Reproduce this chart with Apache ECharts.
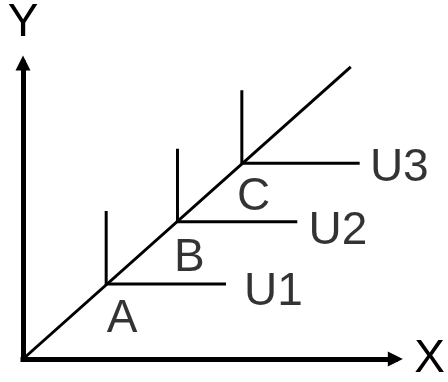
<!DOCTYPE html>
<html>
<head>
<meta charset="utf-8">
<script src="https://cdn.jsdelivr.net/npm/echarts@6/dist/echarts.min.js"></script>
<style>
  html, body { margin: 0; padding: 0; background: #fff; }
  #chart { width: 448px; height: 382px; }
</style>
</head>
<body>
<div id="chart"></div>
<script>
// Leontief (perfect complements) indifference map
var pointNames = ['A', 'B', 'C'];
var curveNames = ['U1', 'U2', 'U3'];
var cornerX = [8.4, 15.6, 22.1];
var cornerY = [7.7, 14.1, 20.1];
var armTop = [15.2, 21.6, 27.6];   // top of vertical arm
var armEnd = [20.5, 27.7, 34.0];   // right end of horizontal arm
var rayEnd = [33.1, 30.0];         // end of ray from origin

// where the letters sit
var pointLabelX = [10.0, 16.8, 23.3];
var pointLabelY = [4.1, 10.3, 16.6];
var curveLabelX = [25.3, 31.8, 38.0];
var curveLabelY = [6.8, 13.1, 19.6];

(function() {
  var ink = '#000';
  var font = 'Liberation Sans, Arial, sans-serif';
  var chart = echarts.init(document.getElementById('chart'), null, { renderer: 'canvas' });

  var series = [];

  series.push({
    type: 'line',
    data: [[0, 0], rayEnd],
    symbol: 'none',
    lineStyle: { color: ink, width: 3 },
    silent: true
  });

  cornerX.forEach(function(x, i) {
    series.push({
      type: 'line',
      data: [[x, armTop[i]], [x, cornerY[i]], [armEnd[i], cornerY[i]]],
      symbol: 'none',
      lineStyle: { color: ink, width: 3, join: 'miter' },
      silent: true
    });
  });

  var textData = [];
  pointNames.forEach(function(n, i) {
    textData.push({ name: n, value: [pointLabelX[i], pointLabelY[i]] });
  });
  curveNames.forEach(function(n, i) {
    textData.push({ name: n, value: [curveLabelX[i], curveLabelY[i]] });
  });

  series.push({
    type: 'scatter',
    data: textData,
    symbolSize: 0,
    clip: false,
    silent: true,
    label: {
      show: true,
      position: 'inside',
      formatter: '{b}',
      color: ink,
      fontSize: 46,
      fontFamily: font
    }
  });

  var axisLine = {
    show: true,
    symbol: ['none', 'triangle'],
    symbolSize: [15, 15],
    lineStyle: { color: ink, width: 5, cap: 'square' }
  };

  chart.setOption({
    animation: false,
    grid: { left: 23, right: 49, top: 60, bottom: 18 },
    xAxis: {
      type: 'value', min: 0, max: 37.6,
      name: 'X', nameLocation: 'end', nameGap: 19,
      nameTextStyle: { color: ink, fontSize: 46, fontFamily: font },
      axisLine: axisLine,
      axisTick: { show: false }, axisLabel: { show: false }, splitLine: { show: false }
    },
    yAxis: {
      type: 'value', min: 0, max: 30.4,
      name: 'Y', nameLocation: 'end', nameGap: 17,
      nameTextStyle: { color: ink, fontSize: 46, fontFamily: font, align: 'center' },
      axisLine: axisLine,
      axisTick: { show: false }, axisLabel: { show: false }, splitLine: { show: false }
    },
    series: series
  });
})();
</script>
</body>
</html>
